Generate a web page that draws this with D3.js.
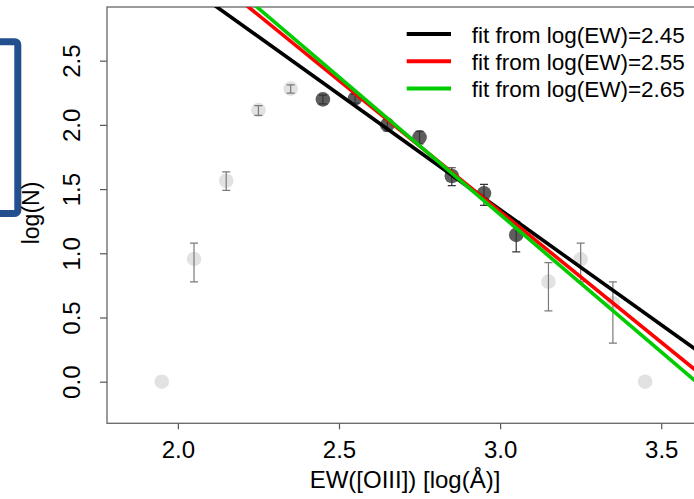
<!DOCTYPE html>
<html>
<head>
<meta charset="utf-8">
<script src="https://cdn.jsdelivr.net/npm/d3@7/dist/d3.min.js"></script>
<style>
  html, body { margin: 0; padding: 0; background: #fff; }
  svg { display: block; font-family: "Liberation Sans", Arial, Helvetica, sans-serif; }
</style>
</head>
<body>
<svg id="chart" width="694" height="499"></svg>
<script>
// ---- data ----
const logEW  = [1.95, 2.05, 2.15, 2.25, 2.35, 2.45, 2.55, 2.65, 2.75, 2.85, 2.95, 3.05, 3.15, 3.25, 3.35, 3.45];
const logN   = [0.000, 0.956, 1.565, 2.116, 2.282, 2.199, 2.207, 2.000, 1.903, 1.602, 1.467, 1.143, 0.779, 0.953, 0.610, 0.000];
const errHi  = [null, 1.079, 1.634, 2.150, 2.311, 2.232, 2.238, 2.041, 1.949, 1.666, 1.536, 1.249, 0.927, 1.079, 0.778, null];
const errLo  = [null, 0.778, 1.490, 2.074, 2.248, 2.163, 2.169, 1.954, 1.852, 1.527, 1.373, 1.011, 0.551, 0.778, 0.301, null];
const inFit  = [0, 0, 0, 0, 0, 1, 1, 1, 1, 1, 1, 1, 0, 0, 0, 0];

const fitLabels     = ["fit from log(EW)=2.45", "fit from log(EW)=2.55", "fit from log(EW)=2.65"];
const fitSlopes     = [-1.795, -2.038, -2.141];
const fitIntercepts = [6.725, 7.440, 7.725];
const fitColors     = ["#000000", "#ff0000", "#00cc00"];

const xTicks = [2.0, 2.5, 3.0, 3.5];
const yTicks = [0.0, 0.5, 1.0, 1.5, 2.0, 2.5];
const xTitle = "EW([OIII]) [log(Å)]";
const yTitle = "log(N)";

// ---- layout ----
const plot = { left: 107, top: 7, right: 716, bottom: 423.3 };
const x = d3.scaleLinear().domain([1.78, 3.67]).range([plot.left, plot.right]);
const y = d3.scaleLinear().domain([-0.324, 2.918]).range([plot.bottom, plot.top]);

const svg = d3.select("#chart");

// decorative blue bracket on the left
svg.append("rect")
  .attr("x", -20).attr("y", 41.7).attr("width", 37.8).attr("height", 171.8)
  .attr("rx", 3)
  .attr("fill", "none").attr("stroke", "#224f8d").attr("stroke-width", 7);

svg.append("defs").append("clipPath").attr("id", "plotclip")
  .append("rect")
  .attr("x", plot.left).attr("y", plot.top)
  .attr("width", plot.right - plot.left).attr("height", plot.bottom - plot.top);

// axes
const xAxis = svg.append("g")
  .attr("transform", `translate(0,${plot.bottom})`)
  .call(d3.axisBottom(x).tickValues(xTicks).tickFormat(d3.format(".1f")).tickSize(6).tickSizeOuter(0));
xAxis.select(".domain").remove();
xAxis.selectAll(".tick line").attr("stroke", "#555").attr("stroke-width", 1.2);
xAxis.selectAll(".tick text")
  .attr("y", 0).attr("dy", 0)
  .attr("transform", "translate(0,35)")
  .attr("fill", "#000").attr("font-size", 24)
  .style("font-family", "'Liberation Sans', Arial, sans-serif");

const yAxis = svg.append("g")
  .attr("transform", `translate(${plot.left},0)`)
  .call(d3.axisLeft(y).tickValues(yTicks).tickFormat(d3.format(".1f")).tickSize(7).tickSizeOuter(0));
yAxis.select(".domain").remove();
yAxis.selectAll(".tick line").attr("stroke", "#555").attr("stroke-width", 1.2);
yAxis.selectAll(".tick text")
  .attr("x", 0).attr("y", 0).attr("dy", 0)
  .attr("text-anchor", "middle")
  .attr("transform", "translate(-27,0) rotate(-90)")
  .attr("fill", "#000").attr("font-size", 24)
  .style("font-family", "'Liberation Sans', Arial, sans-serif");

// plot frame
svg.append("rect")
  .attr("x", plot.left).attr("y", plot.top)
  .attr("width", plot.right - plot.left).attr("height", plot.bottom - plot.top)
  .attr("fill", "none").attr("stroke", "#666").attr("stroke-width", 1.3);

// axis titles
svg.append("text")
  .attr("x", 405).attr("y", 488)
  .attr("text-anchor", "middle").attr("font-size", 24).attr("fill", "#000")
  .text(xTitle);
svg.append("text")
  .attr("transform", "translate(39,213) rotate(-90)")
  .attr("text-anchor", "middle").attr("font-size", 23).attr("fill", "#000")
  .text(yTitle);

const g = svg.append("g").attr("clip-path", "url(#plotclip)");

// points
const pts = logEW.map((e, i) => ({ e, n: logN[i], hi: errHi[i], lo: errLo[i], fit: inFit[i] }));
g.selectAll("circle.pt").data(pts).enter().append("circle")
  .attr("class", "pt")
  .attr("cx", d => x(d.e)).attr("cy", d => y(d.n)).attr("r", 7.3)
  .attr("fill", d => d.fit ? "#5e5e5e" : "#e2e2e2");

// error bars
const eb = g.selectAll("g.eb").data(pts.filter(d => d.hi !== null)).enter().append("g")
  .attr("class", "eb").attr("stroke", d => d.fit ? "#333" : "#7a7a7a").attr("stroke-width", 1.2);
eb.append("line").attr("x1", d => x(d.e)).attr("x2", d => x(d.e)).attr("y1", d => y(d.hi)).attr("y2", d => y(d.lo));
eb.append("line").attr("x1", d => x(d.e) - 4).attr("x2", d => x(d.e) + 4).attr("y1", d => y(d.hi)).attr("y2", d => y(d.hi));
eb.append("line").attr("x1", d => x(d.e) - 4).attr("x2", d => x(d.e) + 4).attr("y1", d => y(d.lo)).attr("y2", d => y(d.lo));

// fit lines
const xd = x.domain();
const line = d3.line().x(d => x(d[0])).y(d => y(d[1]));
fitSlopes.forEach((m, i) => {
  const b = fitIntercepts[i];
  g.append("path")
    .attr("d", line([[xd[0], m * xd[0] + b], [xd[1], m * xd[1] + b]]))
    .attr("fill", "none").attr("stroke", fitColors[i]).attr("stroke-width", 3.6);
});

// legend
const leg = svg.append("g");
fitLabels.forEach((lab, i) => {
  const ly = 34 + i * 27.3;
  leg.append("line").attr("x1", 406.7).attr("x2", 451).attr("y1", ly).attr("y2", ly)
    .attr("stroke", fitColors[i]).attr("stroke-width", 4);
  leg.append("text").attr("x", 471.7).attr("y", ly + 8.5)
    .attr("font-size", 22.5).attr("fill", "#000").text(lab);
});
</script>
</body>
</html>
